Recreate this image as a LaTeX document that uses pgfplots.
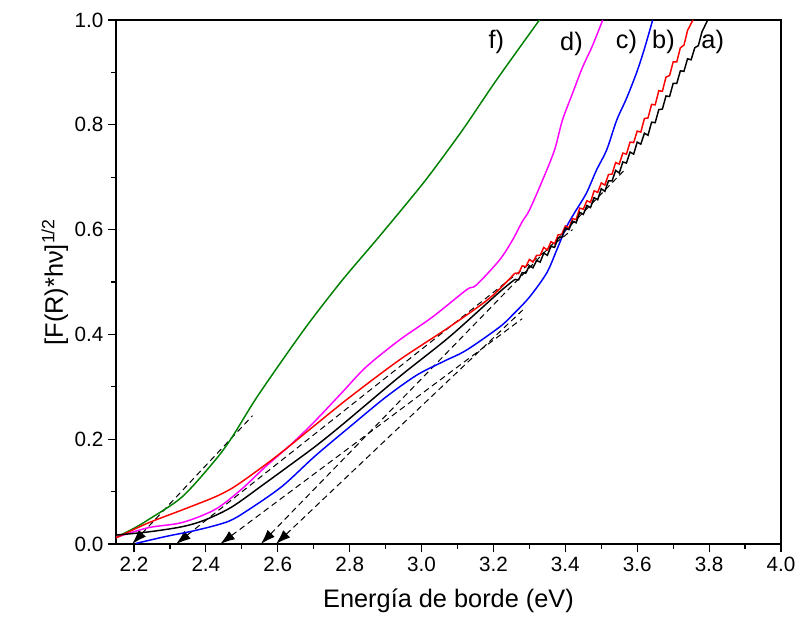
\documentclass[border=0pt]{standalone}
\usepackage{pgfplots}
\pgfplotsset{compat=1.18}
\usepackage{fontspec}
\setmainfont{Liberation Sans}
\usetikzlibrary{arrows.meta}
\definecolor{cgreen}{RGB}{0,128,0}
\definecolor{cmag}{RGB}{255,0,255}
\definecolor{cblue}{RGB}{0,0,255}
\definecolor{cred}{RGB}{255,0,0}
\begin{document}
\begin{tikzpicture}
\begin{axis}[
  scale only axis,
  width=498.75pt, height=393pt,
  xmin=2.15, xmax=4.0, ymin=0, ymax=1.0,
  xtick={2.2,2.4,...,4.01},
  ytick={0,0.2,...,1.01},
  minor x tick num=1, minor y tick num=1,
  xticklabel style={/pgf/number format/.cd, fixed, fixed zerofill, precision=1},
  yticklabel style={/pgf/number format/.cd, fixed, fixed zerofill, precision=1},
  /pgf/number format/assume math mode=true,
  tick align=outside,
  tick pos=left,
  major tick length=6pt, minor tick length=3.5pt,
  every tick/.style={black, line width=0.9pt},
  axis line style={line width=1.1pt},
  ticklabel style={font=\fontsize{15.5}{18}\selectfont},
  xlabel={Energía de borde (eV)},
  ylabel={[F(R)*hν]\textsuperscript{1/2}},
  label style={font=\fontsize{19}{22}\selectfont},
  xlabel style={yshift=-6pt},
  ylabel style={yshift=-2pt},
  every axis plot/.append style={line width=1.1pt},
  tang/.style={black, dashed, line width=0.75pt, dash pattern=on 4.5pt off 3pt, {Latex[length=11pt,width=7.5pt]}-},
]
% dashed tangents
\addplot[tang] coordinates {(2.195,0.0) (2.53,0.245)};
\addplot[tang] coordinates {(2.317,0.0) (3.42,0.60)};
\addplot[tang] coordinates {(2.44,0.0) (3.28,0.43)};
\addplot[tang] coordinates {(2.553,0.0) (3.565,0.714)};
\addplot[tang] coordinates {(2.595,0.0) (3.29,0.452)};
% f) green
\addplot[cgreen, smooth, tension=0.5] coordinates {
(2.148,0.012) (2.20,0.03) (2.239,0.046) (2.334,0.09) (2.426,0.16) (2.473,0.204)
(2.537,0.275) (2.613,0.351) (2.687,0.422) (2.78,0.504) (2.874,0.58)
(2.966,0.656) (3.022,0.704) (3.114,0.79) (3.208,0.885) (3.328,1.0)};
% d) magenta
\addplot[cmag, smooth, tension=0.5] coordinates {
(2.148,0.012) (2.239,0.031) (2.334,0.041) (2.426,0.066) (2.50,0.105) (2.565,0.147)
(2.64,0.192) (2.707,0.237) (2.78,0.29) (2.846,0.338) (2.938,0.389) (3.03,0.433)
(3.125,0.485) (3.152,0.494) (3.217,0.542) (3.253,0.58) (3.28,0.615) (3.30,0.637)
(3.337,0.695) (3.37,0.752) (3.392,0.809) (3.42,0.86) (3.448,0.91) (3.475,0.95) (3.504,1.0)};
% c) blue
\addplot[cblue, smooth, tension=0.5] coordinates {
(2.205,0.001) (2.286,0.014) (2.378,0.027) (2.462,0.043) (2.518,0.065) (2.612,0.110)
(2.704,0.168) (2.808,0.228) (2.90,0.280) (2.986,0.322) (3.06,0.348) (3.125,0.370)
(3.217,0.414) (3.253,0.437) (3.30,0.471) (3.348,0.517) (3.376,0.561) (3.403,0.605)
(3.43,0.637) (3.459,0.67) (3.487,0.714) (3.515,0.752) (3.543,0.809) (3.57,0.85) (3.598,0.899) (3.62,0.945) (3.643,1.0)};
% b) red
\addplot[cred, smooth, tension=0.5] coordinates {
(2.148,0.011) (2.239,0.04) (2.334,0.065) (2.426,0.09) (2.481,0.110) (2.565,0.151)
(2.629,0.185) (2.704,0.227) (2.80,0.28) (2.938,0.351) (3.077,0.414) (3.189,0.469)
(3.26,0.517)};
\addplot[cred] coordinates {
(3.26,0.517) (3.27,0.516) (3.28,0.531) (3.29,0.529) (3.30,0.543) (3.31,0.538) (3.32,0.551)
(3.33,0.551) (3.34,0.566) (3.35,0.561) (3.36,0.577) (3.37,0.573) (3.38,0.590) (3.39,0.591)
(3.40,0.607) (3.41,0.603) (3.42,0.621) (3.43,0.619) (3.44,0.641) (3.45,0.639) (3.46,0.655)
(3.47,0.652) (3.48,0.674) (3.49,0.671) (3.50,0.689) (3.51,0.685) (3.52,0.705) (3.53,0.706)
(3.54,0.728) (3.55,0.725) (3.56,0.746) (3.57,0.744) (3.58,0.767) (3.59,0.766) (3.60,0.788)
(3.61,0.786) (3.62,0.812) (3.63,0.813) (3.64,0.839) (3.65,0.838) (3.66,0.865) (3.67,0.864)
(3.68,0.891) (3.69,0.894) (3.70,0.920) (3.71,0.920) (3.72,0.947) (3.73,0.952) (3.74,0.980)
(3.755,1.0)};
% a) black
\addplot[black, smooth, tension=0.5] coordinates {
(2.148,0.017) (2.239,0.023) (2.334,0.033) (2.398,0.046) (2.473,0.071) (2.565,0.116)
(2.629,0.148) (2.704,0.186) (2.78,0.228) (2.938,0.319) (3.077,0.395) (3.217,0.481)
(3.26,0.505)};
\addplot[black] coordinates {
(3.26,0.505) (3.27,0.504) (3.28,0.518) (3.29,0.517) (3.30,0.531) (3.31,0.527) (3.32,0.541)
(3.33,0.538) (3.34,0.555) (3.35,0.551) (3.36,0.568) (3.37,0.566) (3.38,0.584) (3.39,0.585)
(3.40,0.603) (3.41,0.600) (3.42,0.616) (3.43,0.613) (3.44,0.633) (3.45,0.629) (3.46,0.646)
(3.47,0.642) (3.48,0.661) (3.49,0.657) (3.50,0.678) (3.51,0.673) (3.52,0.693) (3.53,0.693)
(3.54,0.713) (3.55,0.708) (3.56,0.729) (3.57,0.727) (3.58,0.748) (3.59,0.744) (3.60,0.767)
(3.61,0.763) (3.62,0.784) (3.63,0.780) (3.64,0.805) (3.65,0.804) (3.66,0.829) (3.67,0.830)
(3.68,0.855) (3.69,0.854) (3.70,0.879) (3.71,0.879) (3.72,0.903) (3.73,0.902) (3.74,0.926)
(3.75,0.924) (3.76,0.947) (3.77,0.951) (3.78,0.977) (3.796,1.0)};
% labels
\node[font=\fontsize{19}{22}\selectfont] at (axis cs:3.208,0.958) {f)};
\node[font=\fontsize{19}{22}\selectfont] at (axis cs:3.417,0.955) {d)};
\node[font=\fontsize{19}{22}\selectfont] at (axis cs:3.57,0.958) {c)};
\node[font=\fontsize{19}{22}\selectfont] at (axis cs:3.673,0.958) {b)};
\node[font=\fontsize{19}{22}\selectfont] at (axis cs:3.81,0.958) {a)};
\coordinate (ll) at (rel axis cs:0,0);
\coordinate (ur) at (rel axis cs:1,1);
\end{axis}
\pgfresetboundingbox
\path[use as bounding box] ([shift={(-87pt,-65.25pt)}]ll) rectangle ([shift={(15pt,15pt)}]ur);
\end{tikzpicture}
\end{document}
